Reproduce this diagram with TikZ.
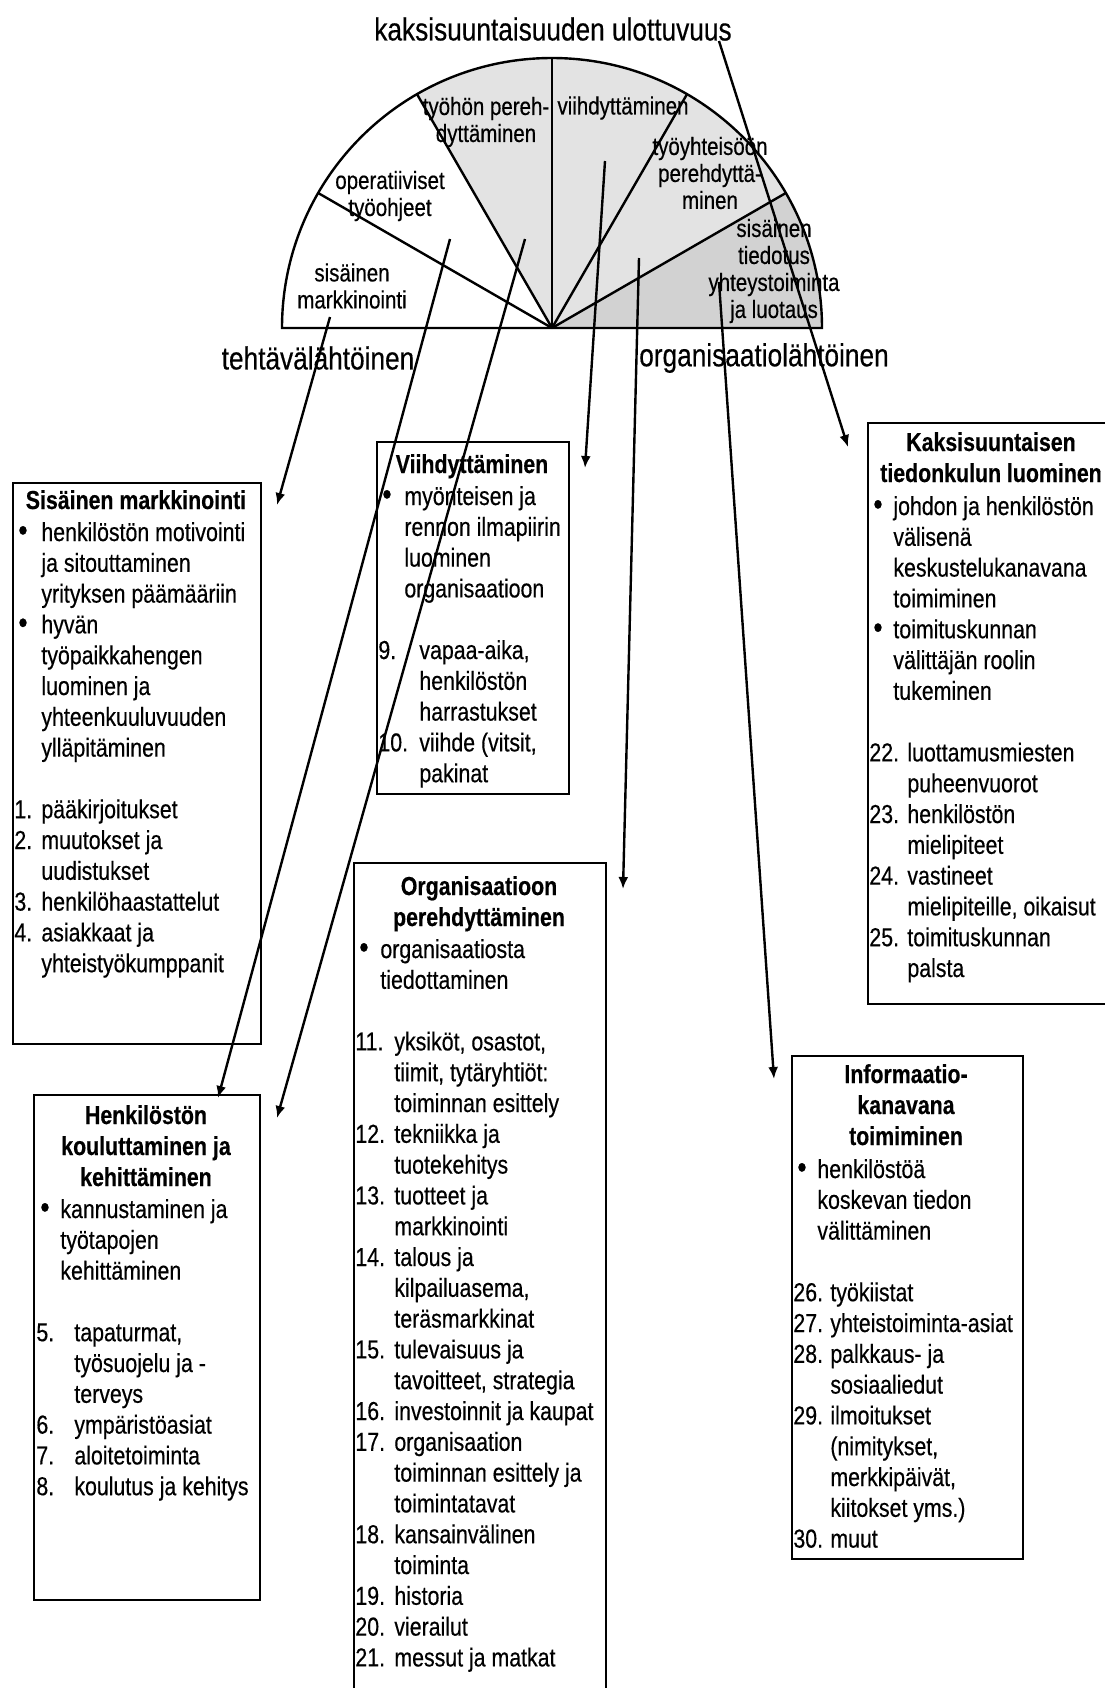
\documentclass[tikz,border=0pt]{standalone}
\usepackage{fontspec}
\setmainfont{Liberation Sans}[FakeStretch=0.82,FakeBold=0.4]
\usetikzlibrary{arrows.meta}

\newlength\bulind
\newlength\numind
\newcommand\bitem{\makebox[\bulind][l]{\hspace{2pt}{\fontsize{16}{15}\selectfont\textbullet}}}
\newcommand\nitem[1]{\makebox[\numind][l]{#1}}
\newcommand\bhang{\hspace*{\bulind}}
\newcommand\nhang{\hspace*{\numind}}
\newcommand\lcol[1]{\begin{tabular}[t]{@{}l@{}}#1\end{tabular}}
\newcommand\ccol[1]{\begin{tabular}[t]{@{}c@{}}#1\end{tabular}}

\begin{document}
\begin{tikzpicture}[x=0.5pt,y=-0.5pt,>={Latex[length=6pt,width=5pt]},
        infobox/.style={draw,line width=0.9pt,anchor=north west,inner sep=0},
        head/.style={font=\fontsize{13}{15.5}\selectfont\bfseries,anchor=base,inner sep=0},
        body/.style={font=\fontsize{13}{15.4}\selectfont,anchor=base west,inner sep=0},
        seclabel/.style={font=\fontsize{12.5}{13.5}\selectfont,align=center,inner sep=0},
        axislabel/.style={font=\fontsize{16}{18}\selectfont,inner sep=0},
        pointer/.style={->,line width=1.2pt},
        sector/.style={line width=1.2pt}]
    \useasboundingbox (0,0) rectangle (1104,1688);
    \fill[white] (0,0) rectangle (1104,1688);

    \coordinate (ctr) at (552,328);
    \fill[gray!22] (ctr) -- ++(30:135pt) arc[start angle=30,end angle=120,radius=135pt] -- cycle;
    \fill[gray!35] (ctr) -- ++(0:135pt) arc[start angle=0,end angle=30,radius=135pt] -- cycle;
    \foreach \a in {30,60,...,150}
        \draw[sector] (ctr) -- ++(\a:135pt);
    \draw[sector] (ctr) ++(0:135pt) arc[start angle=0,end angle=180,radius=135pt] -- cycle;

    \node[axislabel] (dim) at (553,29) {kaksisuuntaisuuden ulottuvuus};
    \node[axislabel] (task) at (318,358) {tehtävälähtöinen};
    \node[axislabel] (orgn) at (764,358) {organisaatiolähtöinen};

    \node[seclabel] (smlab) at (352,286) {sisäinen\\markkinointi};
    \node[seclabel] (otlab) at (390,196) {operatiiviset\\työohjeet};
    \node[seclabel] (tplab) at (486,122) {työhön pereh-\\dyttäminen};
    \node[seclabel] (vilab) at (623,108) {viihdyttäminen};
    \node[seclabel] (yplab) at (710,173) {työyhteisöön\\perehdyttä-\\minen};
    \node[seclabel] (stlab) at (774,271) {sisäinen\\tiedotus\\yhteystoiminta\\ja luotaus};

    % Sisäinen markkinointi
    \node[infobox,minimum width=124pt,minimum height=280.5pt] (smbox) at (12,482) {};
    \node[head] (smhead) at (136,509) {Sisäinen markkinointi};
    \node[body] (smtext) at (14,541) {\setlength\bulind{13.5pt}\setlength\numind{13.5pt}\lcol{%
        \bitem henkilöstön motivointi\\
        \bhang ja sitouttaminen\\
        \bhang yrityksen päämääriin\\
        \bitem hyvän\\
        \bhang työpaikkahengen\\
        \bhang luominen ja\\
        \bhang yhteenkuuluvuuden\\
        \bhang ylläpitäminen\\[15.4pt]
        \nitem{1.}pääkirjoitukset\\
        \nitem{2.}muutokset ja\\
        \nhang uudistukset\\
        \nitem{3.}henkilöhaastattelut\\
        \nitem{4.}asiakkaat ja\\
        \nhang yhteistyökumppanit}};

    % Viihdyttäminen
    \node[infobox,minimum width=96pt,minimum height=176pt] (vibox) at (376,441) {};
    \node[head] (vihead) at (472,473) {Viihdyttäminen};
    \node[body] (vitext) at (378,505) {\setlength\bulind{13pt}\setlength\numind{20.5pt}\lcol{%
        \bitem myönteisen ja\\
        \bhang rennon ilmapiirin\\
        \bhang luominen\\
        \bhang organisaatioon\\[15.4pt]
        \nitem{9.}vapaa-aika,\\
        \nhang henkilöstön\\
        \nhang harrastukset\\
        \nitem{10.}viihde (vitsit,\\
        \nhang pakinat}};

    % Kaksisuuntaisen tiedonkulun luominen
    \node[infobox,minimum width=124pt,minimum height=290.5pt] (kkbox) at (867,422) {};
    \node[head] (kkhead) at (991,451) {\ccol{Kaksisuuntaisen\\tiedonkulun luominen}};
    \node[body] (kktext) at (869,515) {\setlength\bulind{12pt}\setlength\numind{19pt}\lcol{%
        \bitem johdon ja henkilöstön\\
        \bhang välisenä\\
        \bhang keskustelukanavana\\
        \bhang toimiminen\\
        \bitem toimituskunnan\\
        \bhang välittäjän roolin\\
        \bhang tukeminen\\[15.4pt]
        \nitem{22.}luottamusmiesten\\
        \nhang puheenvuorot\\
        \nitem{23.}henkilöstön\\
        \nhang mielipiteet\\
        \nitem{24.}vastineet\\
        \nhang mielipiteille, oikaisut\\
        \nitem{25.}toimituskunnan\\
        \nhang palsta}};

    % Organisaatioon perehdyttäminen
    \node[infobox,minimum width=126pt,minimum height=419pt] (opbox) at (353,862) {};
    \node[head] (ophead) at (479,895) {\ccol{Organisaatioon\\perehdyttäminen}};
    \node[body] (optext) at (355,958) {\setlength\bulind{12.5pt}\setlength\numind{19.5pt}\lcol{%
        \bitem organisaatiosta\\
        \bhang tiedottaminen\\[15.4pt]
        \nitem{11.}yksiköt, osastot,\\
        \nhang tiimit, tytäryhtiöt:\\
        \nhang toiminnan esittely\\
        \nitem{12.}tekniikka ja\\
        \nhang tuotekehitys\\
        \nitem{13.}tuotteet ja\\
        \nhang markkinointi\\
        \nitem{14.}talous ja\\
        \nhang kilpailuasema,\\
        \nhang teräsmarkkinat\\
        \nitem{15.}tulevaisuus ja\\
        \nhang tavoitteet, strategia\\
        \nitem{16.}investoinnit ja kaupat\\
        \nitem{17.}organisaation\\
        \nhang toiminnan esittely ja\\
        \nhang toimintatavat\\
        \nitem{18.}kansainvälinen\\
        \nhang toiminta\\
        \nitem{19.}historia\\
        \nitem{20.}vierailut\\
        \nitem{21.}messut ja matkat}};

    % Henkilöstön kouluttaminen ja kehittäminen
    \node[infobox,minimum width=113pt,minimum height=252.5pt] (hkbox) at (33,1094) {};
    \node[head] (hkhead) at (146,1124) {\ccol{Henkilöstön\\kouluttaminen ja\\kehittäminen}};
    \node[body] (hktext) at (36,1218) {\setlength\bulind{12pt}\setlength\numind{19pt}\lcol{%
        \bitem kannustaminen ja\\
        \bhang työtapojen\\
        \bhang kehittäminen\\[15.4pt]
        \nitem{5.}tapaturmat,\\
        \nhang työsuojelu ja -\\
        \nhang terveys\\
        \nitem{6.}ympäristöasiat\\
        \nitem{7.}aloitetoiminta\\
        \nitem{8.}koulutus ja kehitys}};

    % Informaatiokanavana toimiminen
    \node[infobox,minimum width=115.5pt,minimum height=251.5pt] (ikbox) at (791,1055) {};
    \node[head] (ikhead) at (906,1083) {\ccol{Informaatio-\\kanavana\\toimiminen}};
    \node[body] (iktext) at (793,1178) {\setlength\bulind{12pt}\setlength\numind{18.5pt}\lcol{%
        \bitem henkilöstöä\\
        \bhang koskevan tiedon\\
        \bhang välittäminen\\[15.4pt]
        \nitem{26.}työkiistat\\
        \nitem{27.}yhteistoiminta-asiat\\
        \nitem{28.}palkkaus- ja\\
        \nhang sosiaaliedut\\
        \nitem{29.}ilmoitukset\\
        \nhang (nimitykset,\\
        \nhang merkkipäivät,\\
        \nhang kiitokset yms.)\\
        \nitem{30.}muut}};

    \coordinate (smfrom) at (330,317);
    \coordinate (smto) at (277,505);
    \coordinate (otfrom) at (450,239);
    \coordinate (otto) at (218,1098);
    \coordinate (tpfrom) at (525,239);
    \coordinate (tpto) at (277,1118);
    \coordinate (vifrom) at (605,161);
    \coordinate (vito) at (585,468);
    \coordinate (ypfrom) at (639,258);
    \coordinate (ypto) at (623,889);
    \coordinate (stfrom) at (719,282);
    \coordinate (stto) at (774,1079);
    \coordinate (kkfrom) at (719,41);
    \coordinate (kkto) at (848,447);

    \draw[pointer] (smfrom) -- (smto);
    \draw[pointer] (otfrom) -- (otto);
    \draw[pointer] (tpfrom) -- (tpto);
    \draw[pointer] (vifrom) -- (vito);
    \draw[pointer] (ypfrom) -- (ypto);
    \draw[pointer] (stfrom) -- (stto);
    \draw[pointer] (kkfrom) -- (kkto);
\end{tikzpicture}
\end{document}
